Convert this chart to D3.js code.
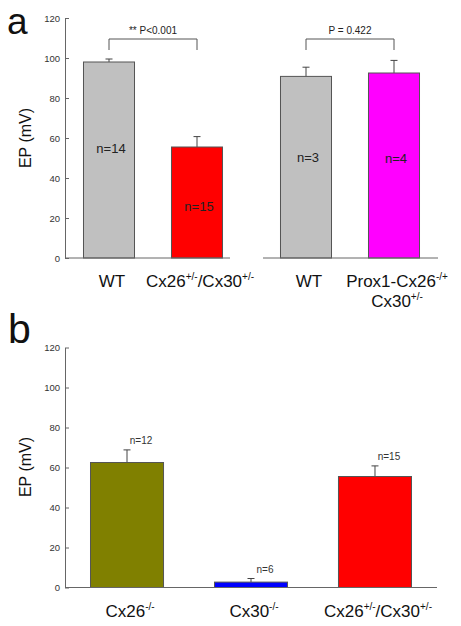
<!DOCTYPE html>
<html>
<head>
<meta charset="utf-8">
<script src="https://cdn.jsdelivr.net/npm/d3@7"></script>
<style>
  html, body { margin: 0; padding: 0; background: #fff; }
  svg { display: block; font-family: Arial, "Liberation Sans", Helvetica, sans-serif; }
</style>
</head>
<body>
<svg id="chart" width="461" height="626"></svg>
<script>
// ---------- data ----------
const yTicks = [0, 20, 40, 60, 80, 100, 120];

// Panel a, left group
const aLeftCategories = ["WT", "Cx26+/-/Cx30+/-"];
const aLeftValues = [98, 55.5];
const aLeftErrors = [1.5, 5.2];
const aLeftN = ["n=14", "n=15"];
const aLeftColors = ["#c0c0c0", "#ff0000"];
const aLeftP = "** P<0.001";

// Panel a, right group
const aRightCategories = ["WT", "Prox1-Cx26-/+ Cx30+/-"];
const aRightValues = [90.8, 92.5];
const aRightErrors = [4.6, 6.3];
const aRightN = ["n=3", "n=4"];
const aRightColors = ["#c0c0c0", "#ff00ff"];
const aRightP = "P = 0.422";

// Panel b
const bCategories = ["Cx26-/-", "Cx30-/-", "Cx26+/-/Cx30+/-"];
const bValues = [62.5, 2.7, 55.5];
const bErrors = [6.3, 1.8, 5.3];
const bN = ["n=12", "n=6", "n=15"];
const bColors = ["#808000", "#0000ff", "#ff0000"];

// ---------- drawing ----------
const svg = d3.select("#chart");
const axisColor = "#666";
const barStroke = "#555";

function labelParts(cat) {
  const re = /(Cx\d+|Prox1-Cx\d+|WT)([+\-\/]*[+\-])?/g;
  const parts = [];
  let m, last = 0;
  while ((m = re.exec(cat)) !== null) {
    if (m.index > last) parts.push({t: cat.slice(last, m.index), sup: false});
    parts.push({t: m[1], sup: false});
    if (m[2]) parts.push({t: m[2], sup: true});
    last = re.lastIndex;
  }
  if (last < cat.length) parts.push({t: cat.slice(last), sup: false});
  return parts;
}

function writeLabel(sel, cat, x, y, size) {
  const lines = cat.split(" ");
  lines.forEach((line, li) => {
    const t = sel.append("text")
      .attr("x", x).attr("y", y + li * 20)
      .attr("text-anchor", "middle")
      .attr("font-size", size)
      .attr("fill", "#111");
    const parts = labelParts(line);
    let shifted = false;
    parts.forEach(p => {
      const ts = t.append("tspan").text(p.t);
      if (p.sup && !shifted) { ts.attr("dy", -7).attr("font-size", 10); shifted = true; }
      else if (p.sup) { ts.attr("font-size", 10); }
      else if (shifted) { ts.attr("dy", 7); shifted = false; }
    });
  });
}

function yAxis(g, y, x0) {
  const ax = d3.axisLeft(y).tickValues(yTicks).tickSizeInner(-4).tickSizeOuter(0).tickPadding(5);
  const ga = g.append("g").attr("transform", `translate(${x0},0)`).call(ax);
  ga.select(".domain").attr("stroke", axisColor);
  ga.selectAll(".tick line").attr("stroke", axisColor);
  ga.selectAll(".tick text").attr("font-size", 9.5).attr("fill", "#333")
    .attr("font-family", "Arial, 'Liberation Sans', sans-serif");
}

function drawGroup(g, cats, vals, errs, cols, x, y, capW) {
  const bw = x.bandwidth();
  cats.forEach((c, i) => {
    const cx = x(c) + bw / 2;
    const top = y(vals[i] + errs[i]);
    g.append("line").attr("x1", cx).attr("x2", cx)
      .attr("y1", y(vals[i])).attr("y2", top)
      .attr("stroke", "#444").attr("stroke-width", 1);
    g.append("line").attr("x1", cx - capW / 2).attr("x2", cx + capW / 2)
      .attr("y1", top).attr("y2", top)
      .attr("stroke", "#444").attr("stroke-width", 1);
    g.append("rect")
      .attr("x", x(c) + 0.5).attr("y", y(vals[i]))
      .attr("width", bw - 1).attr("height", y(0) - y(vals[i]))
      .attr("fill", cols[i]).attr("stroke", barStroke).attr("stroke-width", 1);
  });
}

function bracket(g, x, cats, y, text) {
  const x1 = x(cats[0]) + x.bandwidth() / 2;
  const x2 = x(cats[1]) + x.bandwidth() / 2;
  const yt = y(109.5), yb = y(104);
  g.append("path")
    .attr("d", `M${x1},${yb}V${yt}H${x2}V${yb}`)
    .attr("fill", "none").attr("stroke", "#555").attr("stroke-width", 1);
  g.append("text").attr("x", (x1 + x2) / 2).attr("y", yt - 5)
    .attr("text-anchor", "middle").attr("font-size", 10).attr("fill", "#222").text(text);
}

// ---- Panel a ----
const ga = svg.append("g");
const yA = d3.scaleLinear().domain([0, 120]).range([258, 18]);
const xAL = d3.scaleBand().domain(aLeftCategories).range([65, 241]).paddingInner(0.409).paddingOuter(0.2045);
const xAR = d3.scaleBand().domain(aRightCategories).range([262, 438]).paddingInner(0.409).paddingOuter(0.2045);

drawGroup(ga, aLeftCategories, aLeftValues, aLeftErrors, aLeftColors, xAL, yA, 7);
drawGroup(ga, aRightCategories, aRightValues, aRightErrors, aRightColors, xAR, yA, 7);

yAxis(ga, yA, 65);
ga.append("line").attr("x1", 65).attr("x2", 230).attr("y1", yA(0)).attr("y2", yA(0)).attr("stroke", axisColor);
ga.append("line").attr("x1", 263).attr("x2", 438).attr("y1", yA(0)).attr("y2", yA(0)).attr("stroke", axisColor);

bracket(ga, xAL, aLeftCategories, yA, aLeftP);
bracket(ga, xAR, aRightCategories, yA, aRightP);

const aLeftNPos = [55, 26];
const aRightNPos = [50.5, 50];
aLeftCategories.forEach((c, i) => {
  ga.append("text").attr("x", xAL(c) + xAL.bandwidth() / 2 + 2).attr("y", yA(aLeftNPos[i]) + 5)
    .attr("text-anchor", "middle").attr("font-size", 13).attr("fill", "#222").text(aLeftN[i]);
});
aRightCategories.forEach((c, i) => {
  ga.append("text").attr("x", xAR(c) + xAR.bandwidth() / 2 + 2).attr("y", yA(aRightNPos[i]) + 5)
    .attr("text-anchor", "middle").attr("font-size", 13).attr("fill", "#222").text(aRightN[i]);
});

aLeftCategories.forEach(c => writeLabel(ga, c, xAL(c) + xAL.bandwidth() / 2 + 3, 287, 17));
aRightCategories.forEach(c => writeLabel(ga, c, xAR(c) + xAR.bandwidth() / 2 + 3, 287, 17));

ga.append("text").attr("transform", `translate(31,138) rotate(-90)`)
  .attr("text-anchor", "middle").attr("font-size", 16).attr("fill", "#111").text("EP (mV)");
ga.append("text").attr("x", 7).attr("y", 34).attr("font-size", 37).attr("fill", "#111").text("a");

// ---- Panel b ----
const gb = svg.append("g");
const yB = d3.scaleLinear().domain([0, 120]).range([587.5, 347.5]);
const xB = d3.scaleBand().domain(bCategories).range([65, 437]).paddingInner(0.403).paddingOuter(0.2016);

drawGroup(gb, bCategories, bValues, bErrors, bColors, xB, yB, 7);
yAxis(gb, yB, 65);
gb.append("line").attr("x1", 65).attr("x2", 437).attr("y1", yB(0)).attr("y2", yB(0)).attr("stroke", axisColor);

bCategories.forEach((c, i) => {
  gb.append("text").attr("x", xB(c) + xB.bandwidth() / 2 + 14).attr("y", yB(bValues[i] + bErrors[i]) - 6)
    .attr("text-anchor", "middle").attr("font-size", 10).attr("fill", "#333").text(bN[i]);
});

bCategories.forEach(c => writeLabel(gb, c, xB(c) + xB.bandwidth() / 2 + 3, 617, 17));

gb.append("text").attr("transform", `translate(31,467) rotate(-90)`)
  .attr("text-anchor", "middle").attr("font-size", 16).attr("fill", "#111").text("EP (mV)");
gb.append("text").attr("x", 8).attr("y", 343).attr("font-size", 41).attr("fill", "#111").text("b");
</script>
</body>
</html>
